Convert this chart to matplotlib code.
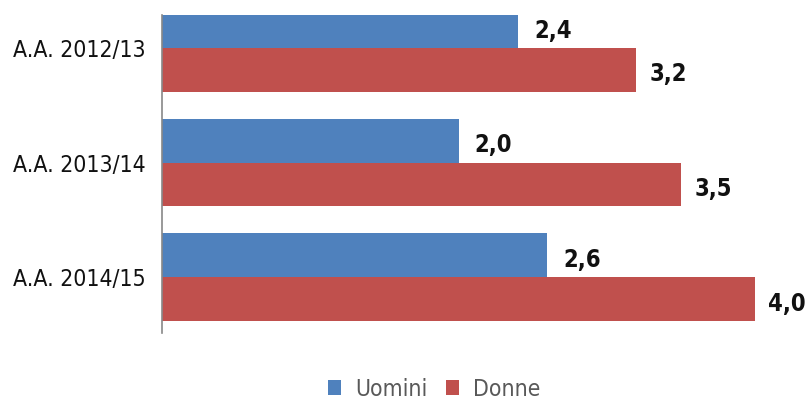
import matplotlib.pyplot as plt
import numpy as np

# Dati
anni = ["A.A. 2012/13", "A.A. 2013/14", "A.A. 2014/15"]
uomini = [2.4, 2.0, 2.6]
donne = [3.2, 3.5, 4.0]

plt.rcParams['font.family'] = ['DejaVu Sans']
plt.rcParams['font.stretch'] = 'condensed'

fig = plt.figure(figsize=(8.08, 4.0), dpi=100)
ax = fig.add_axes([162 / 808, 67 / 400, 646 / 808, 318 / 400])

y = np.arange(len(anni))
h = 0.383
ax.barh(y - h / 2, uomini, height=h, color='#4F81BD', label='Uomini')
ax.barh(y + h / 2, donne, height=h, color='#C0504D', label='Donne')

for i in range(len(anni)):
    ax.text(uomini[i] + 0.11, y[i] - h / 2 + 0.04, f"{uomini[i]:.1f}".replace('.', ','),
            va='center', ha='left', fontsize=17, fontweight='bold', color='#111111')
    ax.text(donne[i] + 0.09, y[i] + h / 2 + 0.04, f"{donne[i]:.1f}".replace('.', ','),
            va='center', ha='left', fontsize=17, fontweight='bold', color='#111111')

ax.set_xlim(0, 646 / 148.25)
ax.set_ylim(2.487, -0.287)
ax.set_yticks(y)
ax.set_yticklabels(anni, fontsize=16.5, color='#111111')
ax.tick_params(axis='y', length=0, pad=12)
ax.set_xticks([])
for s in ['top', 'right', 'bottom']:
    ax.spines[s].set_visible(False)
ax.spines['left'].set_color('#888888')
ax.spines['left'].set_linewidth(1.2)

fig.legend(loc='center', bbox_to_anchor=(434 / 808, 1 - 389 / 400), ncol=2, frameon=False,
           fontsize=16.5, labelcolor='#595959', handlelength=0.6, handleheight=0.6,
           columnspacing=0.8, handletextpad=0.6)

fig.savefig('out.png', dpi=100)
